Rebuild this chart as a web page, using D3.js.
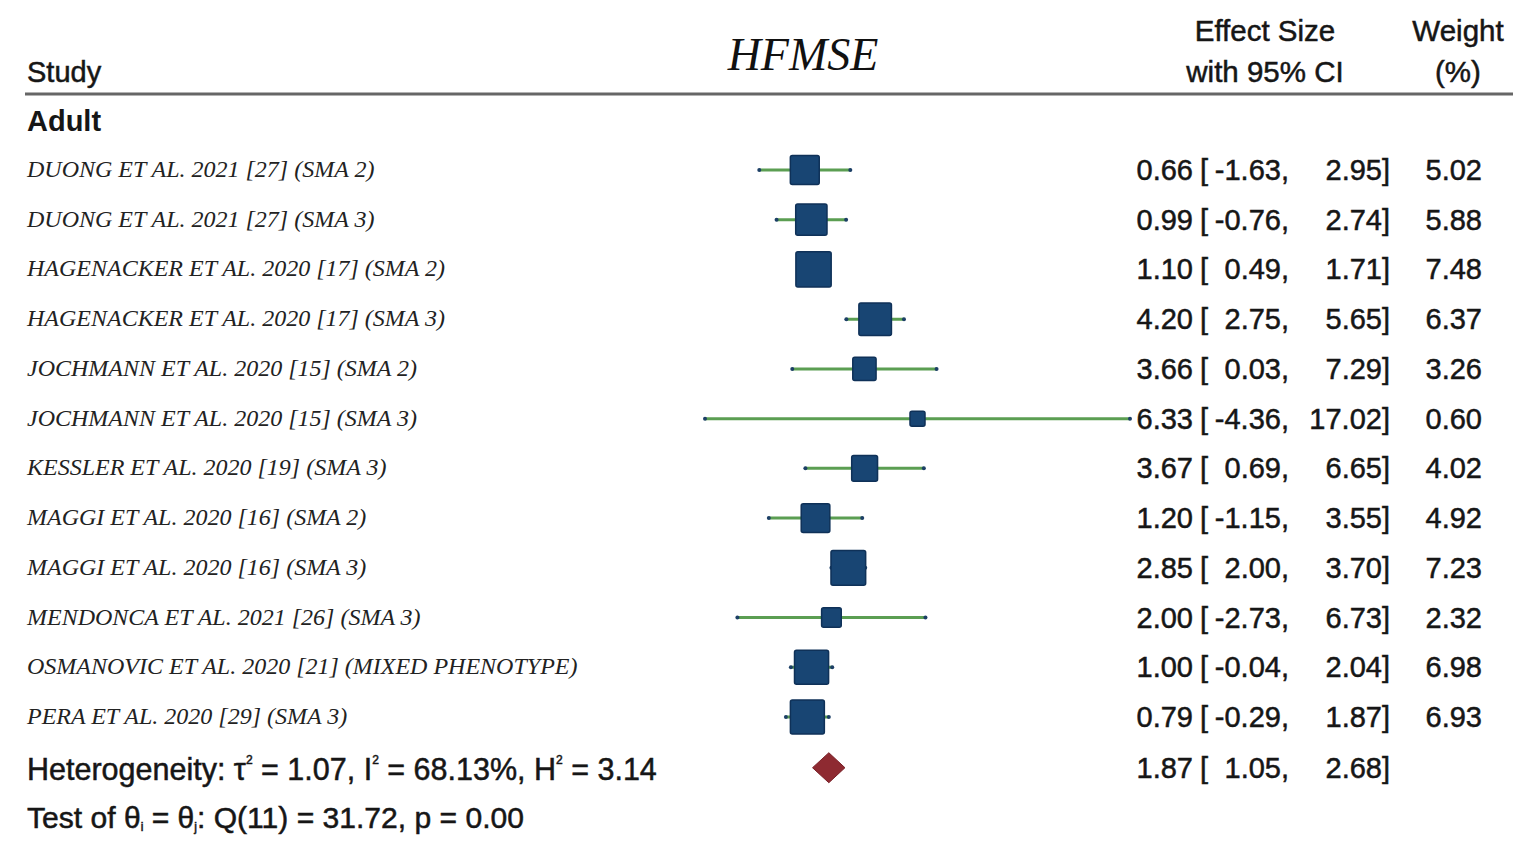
<!DOCTYPE html>
<html>
<head>
<meta charset="utf-8">
<script src="https://cdn.jsdelivr.net/npm/d3@7"></script>
<style>
  body { margin: 0; background: #fff; }
  svg { display: block; }
  .heavy { stroke: #161616; stroke-width: 0.5px; }
</style>
</head>
<body>
<svg id="chart"></svg>
<script>
// study rows, top to bottom
const studies = [
  'DUONG ET AL. 2021 [27] (SMA 2)',
  'DUONG ET AL. 2021 [27] (SMA 3)',
  'HAGENACKER ET AL. 2020 [17] (SMA 2)',
  'HAGENACKER ET AL. 2020 [17] (SMA 3)',
  'JOCHMANN ET AL. 2020 [15] (SMA 2)',
  'JOCHMANN ET AL. 2020 [15] (SMA 3)',
  'KESSLER ET AL. 2020 [19] (SMA 3)',
  'MAGGI ET AL. 2020 [16] (SMA 2)',
  'MAGGI ET AL. 2020 [16] (SMA 3)',
  'MENDONCA ET AL. 2021 [26] (SMA 3)',
  'OSMANOVIC ET AL. 2020 [21] (MIXED PHENOTYPE)',
  'PERA ET AL. 2020 [29] (SMA 3)'
]
const effect = [0.66, 0.99, 1.10, 4.20, 3.66, 6.33, 3.67, 1.20, 2.85, 2.00, 1.00, 0.79]
const ciLow  = [-1.63, -0.76, 0.49, 2.75, 0.03, -4.36, 0.69, -1.15, 2.00, -2.73, -0.04, -0.29]
const ciHigh = [2.95, 2.74, 1.71, 5.65, 7.29, 17.02, 6.65, 3.55, 3.70, 6.73, 2.04, 1.87]
const weight = [5.02, 5.88, 7.48, 6.37, 3.26, 0.60, 4.02, 4.92, 7.23, 2.32, 6.98, 6.93]
const overall = { es: 1.87, lo: 1.05, hi: 2.68 }

const width = 1530, height = 868
const sans = "'Liberation Sans', Arial, sans-serif"
const serif = "'Liberation Serif', 'Times New Roman', serif"
const ink = '#161616'

const svg = d3.select('#chart').attr('width', width).attr('height', height)

const x = d3.scaleLinear().domain([-4.36, 17.02]).range([705, 1130])
const y = d3.scalePoint().domain(d3.range(studies.length)).range([170, 717])
const rowStep = y.step()
const yOverall = y(studies.length - 1) + rowStep + 1

// square side grows with sqrt of weight, small floor like Stata
const side = w => Math.max(15, 12.9 * Math.sqrt(w))
// plain hyphen for negatives, as in the original table
const fmt = d3.formatLocale({ decimal: '.', thousands: ',', grouping: [3], currency: ['', ''], minus: '-' }).format('.2f')

// header
svg.append('text').attr('class', 'heavy').attr('x', 27).attr('y', 82)
  .attr('font-family', sans).attr('font-size', 29).attr('fill', ink)
  .text('Study')
svg.append('text').attr('x', 803).attr('y', 70).attr('text-anchor', 'middle')
  .attr('font-family', serif).attr('font-style', 'italic').attr('font-size', 46).attr('fill', '#111')
  .text('HFMSE')
const head = [
  { t: 'Effect Size', cx: 1265, yy: 41 },
  { t: 'with 95% CI', cx: 1265, yy: 82 },
  { t: 'Weight', cx: 1458, yy: 41 },
  { t: '(%)', cx: 1458, yy: 82 }
]
svg.selectAll('.head').data(head).enter().append('text')
  .attr('class', 'heavy')
  .attr('x', d => d.cx).attr('y', d => d.yy).attr('text-anchor', 'middle')
  .attr('font-family', sans).attr('font-size', 29.5).attr('fill', ink)
  .text(d => d.t)

svg.append('line').attr('x1', 25).attr('x2', 1513).attr('y1', 94).attr('y2', 94)
  .attr('stroke', '#666').attr('stroke-width', 3)

svg.append('text').attr('x', 27).attr('y', 131)
  .attr('font-family', sans).attr('font-size', 29).attr('font-weight', 'bold').attr('fill', ink)
  .text('Adult')

// study labels
svg.selectAll('.lab').data(studies).enter().append('text')
  .attr('x', 27).attr('y', (d, i) => y(i) + 7)
  .attr('font-family', serif).attr('font-style', 'italic').attr('font-size', 24).attr('fill', '#222')
  .text(d => d)

// CI lines
const rows = svg.append('g').selectAll('g').data(studies.map((s, i) => i)).enter().append('g')
rows.append('line')
  .attr('x1', i => x(ciLow[i])).attr('x2', i => x(ciHigh[i]))
  .attr('y1', i => y(i)).attr('y2', i => y(i))
  .attr('stroke', '#5b9e52').attr('stroke-width', 3)
rows.selectAll('circle').data(i => [[i, ciLow[i]], [i, ciHigh[i]]]).enter().append('circle')
  .attr('cx', d => x(d[1])).attr('cy', d => y(d[0])).attr('r', 2)
  .attr('fill', '#1c3f66')
rows.append('rect')
  .attr('x', i => x(effect[i]) - side(weight[i]) / 2)
  .attr('y', i => y(i) - side(weight[i]) / 2)
  .attr('width', i => side(weight[i])).attr('height', i => side(weight[i]))
  .attr('rx', 2)
  .attr('fill', '#184573').attr('stroke', '#0f3158').attr('stroke-width', 1.5)

// overall diamond
const dh = 15
svg.append('path')
  .attr('d', `M${x(overall.lo)},${yOverall} L${x(overall.es)},${yOverall - dh} L${x(overall.hi)},${yOverall} L${x(overall.es)},${yOverall + dh} Z`)
  .attr('fill', '#8e2a31').attr('stroke', '#7a2028').attr('stroke-width', 1)

// right columns
const numRows = studies.map((s, i) => ({ yy: y(i), es: effect[i], lo: ciLow[i], hi: ciHigh[i], w: weight[i] }))
numRows.push({ yy: yOverall, es: overall.es, lo: overall.lo, hi: overall.hi, w: null })

const cols = svg.append('g').attr('class', 'heavy').attr('font-family', sans).attr('font-size', 29).attr('fill', ink)
const nr = cols.selectAll('g').data(numRows).enter().append('g')
  .attr('transform', d => `translate(0,${d.yy + 10})`)
nr.append('text').attr('x', 1193).attr('text-anchor', 'end').text(d => fmt(d.es))
nr.append('text').attr('x', 1200).text('[')
nr.append('text').attr('x', 1289).attr('text-anchor', 'end').text(d => fmt(d.lo) + ',')
nr.append('text').attr('x', 1390).attr('text-anchor', 'end').text(d => fmt(d.hi) + ']')
nr.filter(d => d.w !== null).append('text').attr('x', 1482).attr('text-anchor', 'end').text(d => fmt(d.w))

// heterogeneity footnotes
const het = svg.append('text').attr('class', 'heavy').attr('x', 27).attr('y', 780)
  .attr('font-family', sans).attr('font-size', 30.5).attr('fill', ink)
const sup = (el, t) => el.append('tspan').attr('font-size', 12).attr('dy', -16).text(t)
het.append('tspan').text('Heterogeneity: τ')
sup(het, '2')
het.append('tspan').attr('dy', 16).text(' = 1.07, I')
sup(het, '2')
het.append('tspan').attr('dy', 16).text(' = 68.13%, H')
sup(het, '2')
het.append('tspan').attr('dy', 16).text(' = 3.14')

const test = svg.append('text').attr('class', 'heavy').attr('x', 27).attr('y', 828)
  .attr('font-family', sans).attr('font-size', 30).attr('fill', ink)
  .attr('textLength', 497).attr('lengthAdjust', 'spacingAndGlyphs')
test.append('tspan').text('Test of θ')
test.append('tspan').attr('font-size', 12).attr('dy', 3).text('i')
test.append('tspan').attr('dy', -3).text(' = θ')
test.append('tspan').attr('font-size', 12).attr('dy', 3).text('j')
test.append('tspan').attr('dy', -3).text(': Q(11) = 31.72, p = 0.00')
</script>
</body>
</html>
